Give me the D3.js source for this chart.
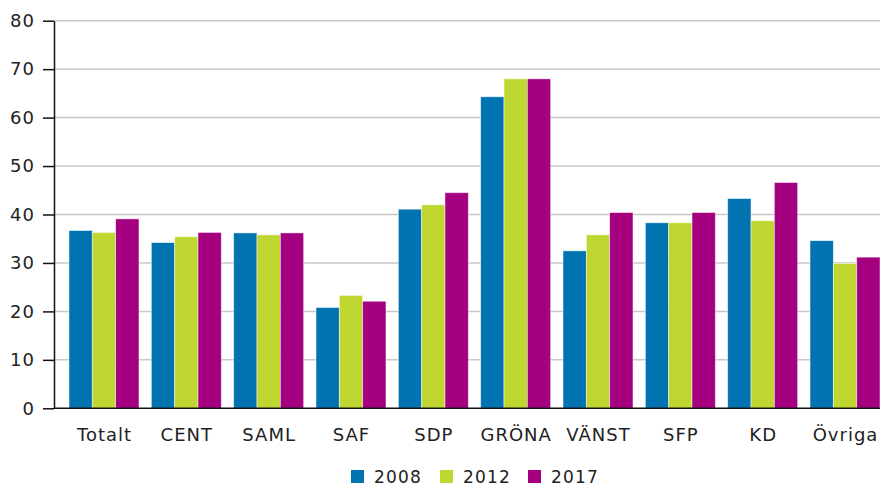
<!DOCTYPE html>
<html>
<head>
<meta charset="utf-8">
<script src="https://cdn.jsdelivr.net/npm/d3@7"></script>
<style>
  html, body { margin: 0; padding: 0; background: #fff; }
  svg { display: block; font-family: "DejaVu Sans", Verdana, sans-serif; }
  .tick-label { font-size: 18px; letter-spacing: 1px; fill: #222; }
  .cat-label { font-size: 18px; letter-spacing: 1px; fill: #222; }
  .legend-label { font-size: 17px; letter-spacing: 1.2px; fill: #222; }
</style>
</head>
<body>
<svg id="chart" width="883" height="486"></svg>
<script>
const categories = ["Totalt", "CENT", "SAML", "SAF", "SDP", "GRÖNA", "VÄNST", "SFP", "KD", "Övriga"];
const years = ["2008", "2012", "2017"];
const values2008 = [36.7, 34.2, 36.2, 20.8, 41.1, 64.3, 32.5, 38.3, 43.3, 34.6];
const values2012 = [36.3, 35.4, 35.8, 23.3, 42.0, 68.0, 35.8, 38.3, 38.7, 29.9];
const values2017 = [39.1, 36.3, 36.2, 22.1, 44.5, 68.0, 40.4, 40.4, 46.6, 31.2];
const yTicks = [0, 10, 20, 30, 40, 50, 60, 70, 80];
const colors = ["#0073b0", "#bfd730", "#a5007f"];

const series = [values2008, values2012, values2017];
const svg = d3.select("#chart");

const plotLeft = 54, plotRight = 880, plotTop = 20.7, plotBottom = 408.3;

const y = d3.scaleLinear().domain([0, 80]).range([plotBottom, plotTop]);
const x = d3.scaleBand().domain(categories).range([69, 880]).paddingInner(0.15).paddingOuter(0);
const xs = d3.scaleBand().domain(years).range([0, x.bandwidth()]);

// gridlines
svg.append("g")
  .selectAll("line")
  .data(yTicks.filter((t) => t > 0))
  .join("line")
  .attr("x1", plotLeft)
  .attr("x2", plotRight)
  .attr("y1", (d) => y(d))
  .attr("y2", (d) => y(d))
  .attr("stroke", "#c8c8c8")
  .attr("stroke-width", 1.5);

// bars
const groups = svg.append("g")
  .selectAll("g")
  .data(categories)
  .join("g")
  .attr("transform", (c) => `translate(${x(c)},0)`);

groups.selectAll("rect")
  .data((c, i) => years.map((yr, k) => ({ yr, k, v: series[k][i] })))
  .join("rect")
  .attr("x", (d) => xs(d.yr))
  .attr("y", (d) => y(d.v))
  .attr("width", xs.bandwidth())
  .attr("height", (d) => plotBottom - y(d.v))
  .attr("fill", (d) => colors[d.k])
  .attr("stroke", "rgba(255,255,255,0.6)")
  .attr("stroke-width", 0.8);

// y axis
const yAxis = svg.append("g")
  .attr("transform", `translate(${plotLeft},0)`)
  .call(d3.axisLeft(y).tickValues(yTicks).tickSize(11).tickPadding(8).tickSizeOuter(0));
yAxis.select(".domain").attr("stroke", "#111").attr("stroke-width", 1.5);
yAxis.selectAll(".tick line").attr("stroke", "#111").attr("stroke-width", 1.5);
yAxis.selectAll(".tick text").attr("class", "tick-label");
yAxis.attr("font-size", null).attr("font-family", null);

// x axis baseline + labels
const xAxis = svg.append("g")
  .attr("transform", `translate(0,${plotBottom})`)
  .call(d3.axisBottom(x).tickSize(0).tickPadding(20));
xAxis.select(".domain").attr("d", `M${plotLeft},0H${plotRight}`).attr("stroke", "#111").attr("stroke-width", 1.5);
xAxis.selectAll(".tick text").attr("class", "cat-label").attr("dx", "0.5px");
xAxis.attr("font-size", null).attr("font-family", null);

// legend
const legendX = [351, 440, 528];
const legend = svg.append("g")
  .selectAll("g")
  .data(years)
  .join("g")
  .attr("transform", (d, i) => `translate(${legendX[i]},470)`);
legend.append("rect")
  .attr("width", 13)
  .attr("height", 13)
  .attr("fill", (d, i) => colors[i]);
legend.append("text")
  .attr("class", "legend-label")
  .attr("x", 23)
  .attr("y", 13)
  .text((d) => d);
</script>
</body>
</html>
